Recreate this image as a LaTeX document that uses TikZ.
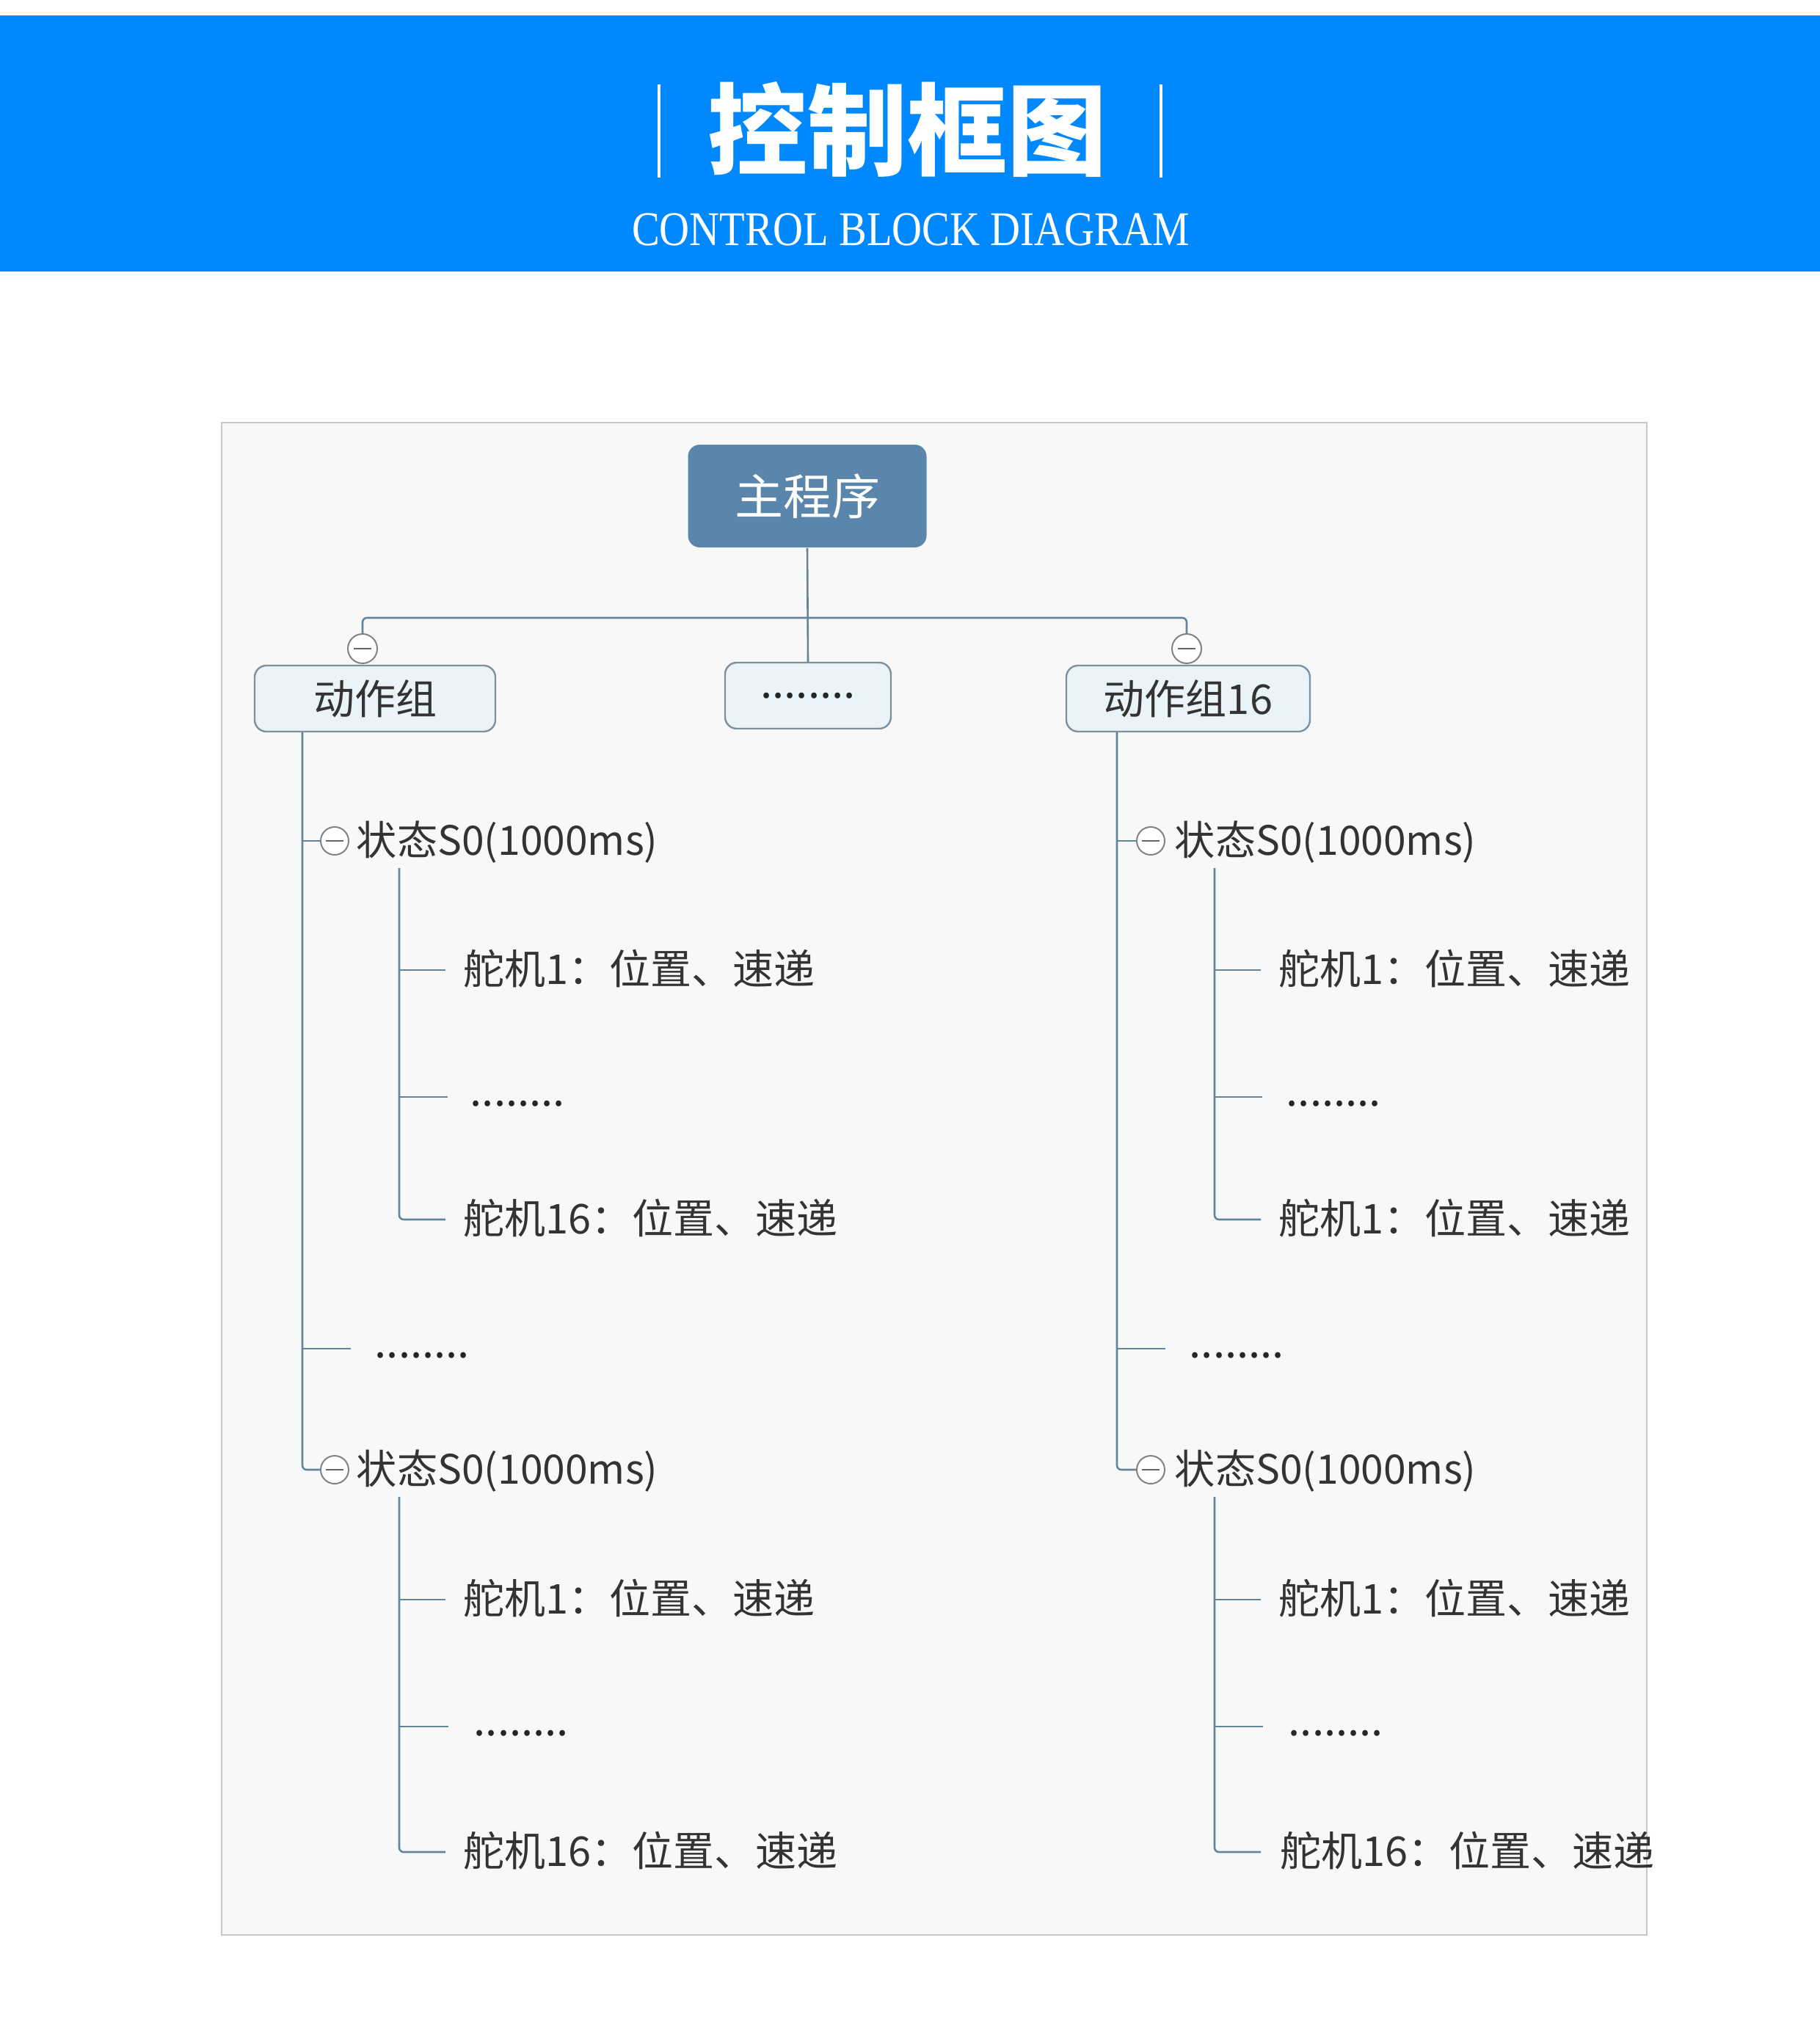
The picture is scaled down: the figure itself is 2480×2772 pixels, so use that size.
\documentclass[tikz,border=0pt]{standalone}
\usepackage{fontspec}
\usetikzlibrary{calc}
\setmainfont{Liberation Serif}
\newfontfamily\cjk{Noto Sans CJK SC}
\newcommand\myfs[1]{\fontsize{#1}{#1}\selectfont}
\definecolor{hdrblue}{RGB}{0,136,255}
\definecolor{panelbg}{RGB}{248,248,248}
\definecolor{panelline}{RGB}{200,200,200}
\definecolor{mainfill}{RGB}{90,134,172}
\definecolor{boxfill}{RGB}{234,244,248}
\definecolor{boxline}{RGB}{125,145,158}
\definecolor{connc}{RGB}{98,133,156}
\definecolor{txtc}{RGB}{51,51,51}
\definecolor{tglc}{RGB}{130,130,130}
\tikzset{
 conn/.style={draw=connc, line width=0.65pt, rounded corners=1.5pt},
 mainbox/.style={draw=none, fill=mainfill, rounded corners=4pt, text=white, font=\cjk\myfs{16.5}, minimum width=81.25pt, minimum height=35pt, inner sep=0pt},
 grpbox/.style={draw=boxline, line width=0.6pt, fill=boxfill, rounded corners=4pt, text=txtc, font=\cjk\myfs{14}, minimum height=22.5pt, inner sep=0pt},
 tgl/.style={circle, draw=tglc, line width=0.5pt, fill=white, minimum size=10pt, inner sep=0pt,
   path picture={\draw[black!60, line width=0.5pt] ([xshift=-3pt]path picture bounding box.center) -- ([xshift=3pt]path picture bounding box.center);}},
 lbl/.style={anchor=west, inner sep=0pt, text=txtc, font=\cjk\myfs{14}, text height=0.95em, text depth=0em},
 stlbl/.style={lbl, font=\cjk\myfs{13.8}},
 dotlbl/.style={lbl, text=black!85, text height=0.6em, font=\cjk\myfs{14.5}},
}
\begin{document}
\begin{tikzpicture}[x=0.25pt,y=-0.25pt]
\useasboundingbox (0,0) rectangle (2480,2772);
\fill[white] (0,0) rectangle (2480,2772);
\fill[hdrblue] (0,21) rectangle (2480,370);
\draw[white, line width=1pt] (898,115) -- (898,242);
\draw[white, line width=1pt] (1582,115) -- (1582,242);
\node[text=white, font=\cjk\bfseries\myfs{34}, inner sep=0pt] (title) at (1236,176) {控制框图};
\node[text=white, font=\myfs{16.5}, inner sep=0pt] (subtitle) at (1241,313) {\scalebox{0.86}[1]{CONTROL BLOCK DIAGRAM}};
\draw[fill=panelbg, draw=panelline, line width=0.6pt] (302,576) rectangle (2244,2637);
% top level
\node[mainbox] (main) at (1100,676) {主程序};
\node[grpbox, minimum width=82pt] (g1) at (511,952) {动作组};
\node[grpbox, minimum width=56.5pt, text=black!85, font=\cjk\myfs{14.5}] (gm) at (1101,948) {........};
\node[grpbox, minimum width=83pt] (g16) at (1619,952) {动作组16};
\node[tgl] (c1) at (494,884) {};
\node[tgl] (c16) at (1617,884) {};
\coordinate (hub) at (1100,842);
\draw[conn] (c1.north) |- (hub) -| (c16.north);
\draw[conn] (main.south) -- (gm.north);
% left subtree
\coordinate (spL) at ([xshift=-24.75pt]g1.south);
\node[tgl, minimum size=9.5pt] (cs1) at (456,1146) {};
\node[stlbl] (ts1) at (485,1146) {状态S0(1000ms)};
\coordinate (sp1) at (544,1183);
\node[lbl] (l11) at (631,1322) {舵机1：位置、速递};
\node[dotlbl] (l12) at (640,1495) {........};
\node[lbl] (l13) at (631,1662) {舵机16：位置、速递};
\node[dotlbl] (dL) at (510,1838) {........};
\node[tgl, minimum size=9.5pt] (cs2) at (456,2003) {};
\node[stlbl] (ts2) at (485,2003) {状态S0(1000ms)};
\coordinate (sp2) at (544,2040);
\node[lbl] (l21) at (631,2180) {舵机1：位置、速递};
\node[dotlbl] (l22) at (645,2353) {........};
\node[lbl] (l23) at (631,2524) {舵机16：位置、速递};
\draw[conn] (spL) |- (cs2.west);
\draw[conn] (cs1.west) -- (cs1.west -| spL);
\draw[conn] (dL.west -| spL) -- ([xshift=-8pt]dL.west);
\draw[conn] (sp1) |- ([xshift=-6pt]l13.west);
\draw[conn] (l11.west -| sp1) -- ([xshift=-6pt]l11.west);
\draw[conn] (l12.west -| sp1) -- ([xshift=-7.5pt]l12.west);
\draw[conn] (sp2) |- ([xshift=-6pt]l23.west);
\draw[conn] (l21.west -| sp2) -- ([xshift=-6pt]l21.west);
\draw[conn] (l22.west -| sp2) -- ([xshift=-8.5pt]l22.west);
% right subtree
\coordinate (spR) at ([xshift=-24.25pt]g16.south);
\node[tgl, minimum size=9.5pt] (cs3) at (1568,1146) {};
\node[stlbl] (ts3) at (1600,1146) {状态S0(1000ms)};
\coordinate (sp3) at (1655,1183);
\node[lbl] (r11) at (1742,1322) {舵机1：位置、速递};
\node[dotlbl] (r12) at (1752,1495) {........};
\node[lbl] (r13) at (1742,1662) {舵机1：位置、速递};
\node[dotlbl] (dR) at (1620,1838) {........};
\node[tgl, minimum size=9.5pt] (cs4) at (1568,2003) {};
\node[stlbl] (ts4) at (1600,2003) {状态S0(1000ms)};
\coordinate (sp4) at (1655,2040);
\node[lbl] (r21) at (1742,2180) {舵机1：位置、速递};
\node[dotlbl] (r22) at (1755,2353) {........};
\node[lbl] (r23) at (1744,2524) {舵机16：位置、速递};
\draw[conn] (spR) |- (cs4.west);
\draw[conn] (cs3.west) -- (cs3.west -| spR);
\draw[conn] (dR.west -| spR) -- ([xshift=-8pt]dR.west);
\draw[conn] (sp3) |- ([xshift=-6pt]r13.west);
\draw[conn] (r11.west -| sp3) -- ([xshift=-6pt]r11.west);
\draw[conn] (r12.west -| sp3) -- ([xshift=-8pt]r12.west);
\draw[conn] (sp4) |- ([xshift=-6.5pt]r23.west);
\draw[conn] (r21.west -| sp4) -- ([xshift=-6pt]r21.west);
\draw[conn] (r22.west -| sp4) -- ([xshift=-8.5pt]r22.west);
\end{tikzpicture}
\end{document}
